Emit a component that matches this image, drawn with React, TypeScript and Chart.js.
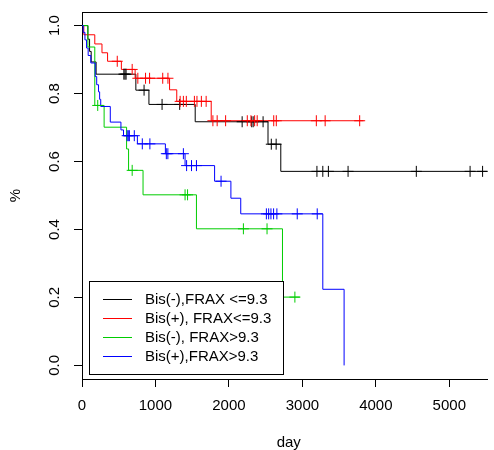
import React, { useEffect, useRef } from "react";
import { Chart, registerables } from "chart.js";
Chart.register(...registerables);

const seriesLabels = ["Bis(-),FRAX <=9.3", "Bis(+), FRAX<=9.3", "Bis(-), FRAX>9.3", "Bis(+),FRAX>9.3"];
const seriesColors = ["#000000", "#FF0000", "#00CD00", "#0000FF"];

const blackTimes = [0, 80, 103, 125, 192, 733, 911, 1541, 2532, 2706, 5600];
const blackSurv = [1, 0.96, 0.924, 0.893, 0.857, 0.81, 0.768, 0.717, 0.651, 0.571, 0.571];
const blackCensor = [570, 585, 600, 845, 1090, 1330, 2180, 2310, 2330, 2465, 2577, 2643, 3198, 3278, 3354, 3622, 4551, 5283, 5453];

const redTimes = [0, 25, 174, 272, 348, 536, 723, 1192, 1290, 1759, 3832];
const redSurv = [1, 0.973, 0.946, 0.92, 0.895, 0.871, 0.845, 0.811, 0.777, 0.72, 0.72];
const redCensor = [480, 683, 760, 865, 920, 1099, 1170, 1336, 1380, 1420, 1530, 1565, 1625, 1690, 1782, 1840, 1955, 2250, 2300, 2350, 2385, 2610, 2645, 3190, 3310, 3780];

const greenTimes = [0, 80, 174, 301, 607, 634, 831, 1558, 2729, 2965];
const greenSurv = [1, 0.937, 0.765, 0.701, 0.637, 0.574, 0.502, 0.402, 0.201, 0.201];
const greenCensor = [214, 683, 1403, 1437, 2197, 2519, 2898];

const blueTimes = [0, 17, 40, 62, 84, 120, 180, 200, 225, 240, 255, 385, 530, 565, 754, 1135, 1403, 1805, 2027, 2161, 3278, 3568];
const blueSurv = [1, 0.98, 0.958, 0.934, 0.912, 0.89, 0.85, 0.826, 0.805, 0.783, 0.762, 0.716, 0.693, 0.676, 0.652, 0.623, 0.588, 0.542, 0.492, 0.446, 0.224, 0];
const blueCensor = [615, 630, 645, 712, 821, 924, 1148, 1169, 1380, 1424, 1491, 1558, 1893, 2510, 2541, 2572, 2608, 2653, 2930, 3202];

const xTicks = [0, 1000, 2000, 3000, 4000, 5000];
const xTickLabels = ["0", "1000", "2000", "3000", "4000", "5000"];
const yTicks = [0, 0.2, 0.4, 0.6, 0.8, 1.0];
const yTickLabels = ["0.0", "0.2", "0.4", "0.6", "0.8", "1.0"];
const xTitle = "day";
const yTitle = "%";

const FONT = "'Liberation Sans', Arial, sans-serif";

function survAt(times: number[], surv: number[], t: number) {
  let v = surv[0];
  for (let i = 0; i < times.length; i++) {
    if (times[i] <= t) v = surv[i];
  }
  return v;
}

const curves = [
  { times: blackTimes, surv: blackSurv, censor: blackCensor },
  { times: redTimes, surv: redSurv, censor: redCensor },
  { times: greenTimes, surv: greenSurv, censor: greenCensor },
  { times: blueTimes, surv: blueSurv, censor: blueCensor },
];

const framePlugin = {
  id: "rframe",
  afterDraw(chart: any) {
    const { ctx, chartArea: a } = chart;
    ctx.save();
    ctx.strokeStyle = "#000";
    ctx.lineWidth = 1;
    const ty = Math.round(a.top) + 0.5;
    ctx.beginPath();
    ctx.moveTo(a.left, ty);
    ctx.lineTo(a.right, ty);
    ctx.stroke();

    ctx.fillStyle = "#000";
    ctx.font = `15px ${FONT}`;
    ctx.textAlign = "center";
    ctx.textBaseline = "middle";
    ctx.fillText(xTitle, (a.left + a.right) / 2 + 4, a.bottom + 64);
    ctx.save();
    ctx.translate(16, (a.top + a.bottom) / 2);
    ctx.rotate(-Math.PI / 2);
    ctx.fillText(yTitle, 0, 0);
    ctx.restore();

    // legend
    const bw = 194, bh = 93;
    const bx = Math.round(a.left + 7);
    const by = Math.round(a.bottom - 5 - bh);
    ctx.fillStyle = "#fff";
    ctx.fillRect(bx, by, bw, bh);
    ctx.strokeStyle = "#000";
    ctx.strokeRect(bx + 0.5, by + 0.5, bw, bh);
    ctx.textAlign = "left";
    ctx.textBaseline = "middle";
    for (let i = 0; i < seriesLabels.length; i++) {
      const ry = by + 18 + i * 19;
      ctx.strokeStyle = seriesColors[i];
      ctx.beginPath();
      ctx.moveTo(bx + 14, ry + 0.5);
      ctx.lineTo(bx + 43, ry + 0.5);
      ctx.stroke();
      ctx.fillStyle = "#000";
      ctx.fillText(seriesLabels[i], bx + 56, ry + 1);
    }
    ctx.restore();
  },
};

export default function App() {
  const ref = useRef<HTMLCanvasElement | null>(null);
  useEffect(() => {
    if (!ref.current) return;
    Chart.defaults.font.family = FONT;
    Chart.defaults.font.size = 15;
    Chart.defaults.color = "#000";
    const datasets: any[] = [];
    curves.forEach((c, i) => {
      datasets.push({
        label: seriesLabels[i],
        data: c.times.map((t, k) => ({ x: t, y: c.surv[k] })),
        borderColor: seriesColors[i],
        borderWidth: 1,
        pointRadius: 0,
        stepped: "before",
        fill: false,
        order: 10 - i,
      });
    });
    curves.forEach((c, i) => {
      datasets.push({
        label: seriesLabels[i] + " censored",
        data: c.censor.map((t) => ({ x: t, y: survAt(c.times, c.surv, t) })),
        borderColor: seriesColors[i],
        backgroundColor: seriesColors[i],
        borderWidth: 1,
        showLine: false,
        pointStyle: "cross",
        pointRadius: 5.5,
        pointHoverRadius: 5.5,
        order: 5 - i,
      });
    });
    const chart = new Chart(ref.current, {
      type: "line",
      data: { datasets },
      plugins: [framePlugin],
      options: {
        animation: false,
        responsive: false,
        devicePixelRatio: 1,
        events: [],
        layout: { padding: { top: 12, right: 0, bottom: 0, left: 0 } },
        plugins: { legend: { display: false }, tooltip: { enabled: false } },
        scales: {
          x: {
            type: "linear",
            min: 0,
            max: 5520,
            afterBuildTicks: (s: any) => {
              s.ticks = xTicks.map((v) => ({ value: v }));
            },
            afterFit: (s: any) => {
              s.height = 71;
              s.paddingLeft = 0;
              s.paddingRight = 0;
            },
            grid: { drawOnChartArea: false, drawTicks: true, tickLength: 8, color: "#000" },
            border: { display: true, color: "#000" },
            ticks: {
              color: "#000",
              padding: 10,
              maxRotation: 0,
              autoSkip: false,
              font: { size: 15 },
              callback: (_v: any, i: number) => xTickLabels[i],
            },
          },
          y: {
            type: "linear",
            min: -0.04,
            max: 1.04,
            afterBuildTicks: (s: any) => {
              s.ticks = yTicks.map((v) => ({ value: v }));
            },
            afterFit: (s: any) => {
              s.width = 82;
              s.paddingTop = 0;
              s.paddingBottom = 0;
            },
            grid: { drawOnChartArea: false, drawTicks: true, tickLength: 8, color: "#000" },
            border: { display: true, color: "#000" },
            ticks: {
              color: "#000",
              minRotation: 90,
              maxRotation: 90,
              crossAlign: "center",
              padding: 9,
              autoSkip: false,
              font: { size: 15 },
              callback: (_v: any, i: number) => yTickLabels[i],
            },
          },
        },
      } as any,
    });
    return () => chart.destroy();
  }, []);
  return (
    <div style={{ position: "absolute", left: 0, top: 0 }}>
      <canvas ref={ref} width={494} height={450} style={{ display: "block" }} />
    </div>
  );
}
